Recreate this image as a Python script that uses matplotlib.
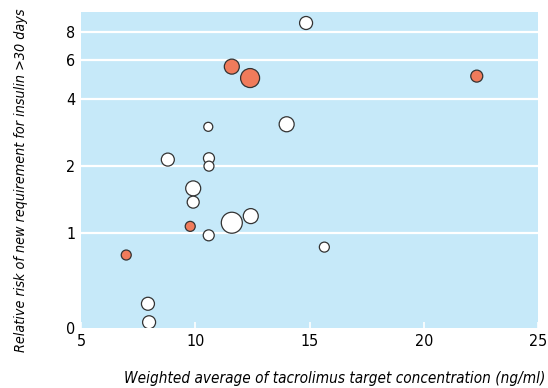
import matplotlib.pyplot as plt
import numpy as np

# tacrolimus target concentration (ng/ml) vs relative risk, one row per study
conc_white = [14.85, 10.57, 14.0, 8.8, 10.6, 10.6, 9.91, 9.91, 11.6, 12.43, 10.59, 15.65, 7.93, 7.98]
risk_white = [8.75, 3.0, 3.08, 2.14, 2.17, 2.0, 1.59, 1.38, 1.116, 1.195, 0.98, 0.868, 0.484, 0.40]
size_white = [13, 9, 15, 13, 11, 10, 15, 12, 21, 15, 11, 10, 13, 13]

conc_red = [11.6, 12.4, 22.32, 9.78, 6.98]
risk_red = [5.58, 4.96, 5.06, 1.075, 0.8]
size_red = [15, 19, 12, 10, 10]

yticks = [0.377, 1, 2, 4, 6, 8]
ylabels = ['0', '1', '2', '4', '6', '8']
xticks = [5, 10, 15, 20, 25]

plt.rcParams['font.family'] = ['DejaVu Sans']
plt.rcParams['font.stretch'] = 'condensed'

fig = plt.figure(figsize=(5.48, 3.88), dpi=100)
ax = fig.add_axes([81/548, 1-328/388, 457/548, 316/388])
ax.set_facecolor('#c6e9f9')

def area(d):
    # marker diameter in pixels -> scatter size in pt^2
    return (np.array(d) * 0.72) ** 2

# draw bigger circles first so small ones stay visible
for xs, ys, ds, fc in [(conc_white, risk_white, size_white, 'white'),
                       (conc_red, risk_red, size_red, '#f07b5b')]:
    order = np.argsort(ds)[::-1]
    ax.scatter(np.array(xs)[order], np.array(ys)[order], s=area(np.array(ds)[order]),
               facecolor=fc, edgecolor='#333333', linewidth=0.9, zorder=3)

ax.set_yscale('log')
ax.set_ylim(0.377, 9.8)
ax.set_xlim(5, 25)
ax.set_yticks(yticks)
ax.set_yticklabels(ylabels)
ax.minorticks_off()
ax.set_xticks(xticks)
for y in yticks[1:]:
    ax.axhline(y, color='white', linewidth=1.6, zorder=1)

for s in ax.spines.values():
    s.set_visible(False)
ax.tick_params(axis='y', length=0, labelsize=11.5, pad=4)
ax.tick_params(axis='x', direction='in', length=4, width=1.2, color='white',
               labelsize=11.5, pad=4)

fig.text(21/548, 1-180/388, 'Relative risk of new requirement for insulin >30 days',
         rotation=90, ha='center', va='center', style='italic', fontsize=10.3)
fig.text(545/548, 1-378/388, 'Weighted average of tacrolimus target concentration (ng/ml)',
         ha='right', va='center', style='italic', fontsize=11)

fig.savefig('out.png', dpi=100)
